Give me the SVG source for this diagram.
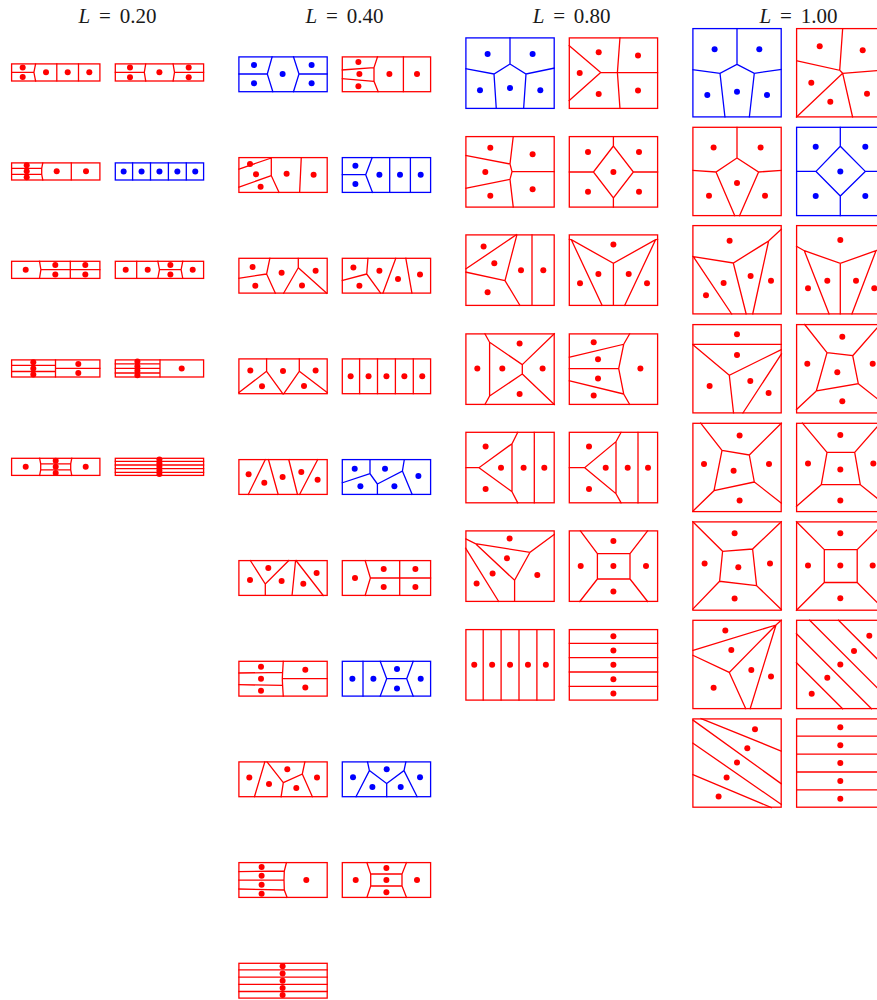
<svg xmlns="http://www.w3.org/2000/svg" width="877" height="1000" viewBox="0 0 877 1000">
<style>
.r rect,.r path{fill:none;stroke:#ff0000;stroke-width:1.3}
.b rect,.b path{fill:none;stroke:#0000ff;stroke-width:1.3}
.r circle{fill:#ff0000}
.b circle{fill:#0000ff}
.t{font-family:"Liberation Serif","DejaVu Serif",serif;font-size:21px;fill:#1a1a1a;word-spacing:3.5px}
</style>
<rect width="877" height="1000" fill="#ffffff"/>
<g id="titles">
<text class="t" x="117.5" y="23.3" text-anchor="middle"><tspan font-style="italic">L</tspan> = 0.20</text>
<text class="t" x="344.5" y="23.3" text-anchor="middle"><tspan font-style="italic">L</tspan> = 0.40</text>
<text class="t" x="571.7" y="22.7" text-anchor="middle"><tspan font-style="italic">L</tspan> = 0.80</text>
<text class="t" x="798.5" y="22.7" text-anchor="middle"><tspan font-style="italic">L</tspan> = 1.00</text>
</g>

<!-- Column L=0.20 -->
<g id="c1r0L" class="r" transform="translate(11,63.3)"><rect x=".6" y=".6" width="88.3" height="17.1"/>
<path d="M0,9 H22.9 M24.7,0 L22.9,9 L24.7,18.3 M45.8,0 V18.3 M67.5,0 V18.3"/>
<circle cx="11.7" cy="4.3" r="3"/><circle cx="11.7" cy="13.8" r="3"/><circle cx="35" cy="9" r="3"/><circle cx="56.7" cy="9" r="3"/><circle cx="78.3" cy="9" r="3"/></g>
<g id="c1r0R" class="r" transform="translate(114.7,63.3)"><rect x=".6" y=".6" width="88.3" height="17.1"/>
<path d="M0,9 H29.6 M31.1,0 L29.6,9 L31.1,18.3 M58.3,0 L59.8,9 L58.3,18.3 M59.8,9 H89.5"/>
<circle cx="15.3" cy="4.3" r="3"/><circle cx="15.3" cy="14" r="3"/><circle cx="44.7" cy="9" r="3"/><circle cx="74" cy="4.3" r="3"/><circle cx="74" cy="14" r="3"/></g>

<g id="c1r1L" class="r" transform="translate(11,162.3)"><rect x=".6" y=".6" width="88.3" height="17.1"/>
<path d="M0,6 H30.7 M0,12 H30.7 M31.9,0 L30.7,6 L30.7,12 L31.9,18.3 M60.3,0 V18.3"/>
<circle cx="15.7" cy="3" r="3"/><circle cx="15.7" cy="9" r="3"/><circle cx="15.7" cy="15" r="3"/><circle cx="45.7" cy="9" r="3"/><circle cx="75" cy="9" r="3"/></g>
<g id="c1r1R" class="b" transform="translate(114.7,162.3)"><rect x=".6" y=".6" width="88.3" height="17.1"/>
<path d="M17.9,0 V18.3 M35.8,0 V18.3 M53.7,0 V18.3 M71.6,0 V18.3"/>
<circle cx="8.95" cy="9.15" r="3"/><circle cx="26.85" cy="9.15" r="3"/><circle cx="44.75" cy="9.15" r="3"/><circle cx="62.65" cy="9.15" r="3"/><circle cx="80.55" cy="9.15" r="3"/></g>

<g id="c1r2L" class="r" transform="translate(11,260.7)"><rect x=".6" y=".6" width="88.3" height="17.1"/>
<path d="M28.4,0 L29.9,9 L28.4,18.3 M29.9,9 H89.5 M59.3,0 V18.3"/>
<circle cx="14.7" cy="9" r="3"/><circle cx="44.3" cy="4.3" r="3"/><circle cx="44.3" cy="13.7" r="3"/><circle cx="74.3" cy="4.3" r="3"/><circle cx="74.3" cy="13.7" r="3"/></g>
<g id="c1r2R" class="r" transform="translate(114.7,260.7)"><rect x=".6" y=".6" width="88.3" height="17.1"/>
<path d="M22,0 V18.3 M43,0 L44.8,9 L43,18.3 M44.8,9 H66.4 M68.2,0 L66.4,9 L68.2,18.3"/>
<circle cx="11" cy="9" r="3"/><circle cx="33" cy="9" r="3"/><circle cx="55.7" cy="4.3" r="3"/><circle cx="55.7" cy="13.7" r="3"/><circle cx="78" cy="9" r="3"/></g>

<g id="c1r3L" class="r" transform="translate(11,359.3)"><rect x=".6" y=".6" width="88.3" height="17.1"/>
<path d="M0,6.1 H44.5 M0,12.2 H44.5 M44.5,0 V18.3 M44.5,9.15 H89.5"/>
<circle cx="22.3" cy="3" r="3"/><circle cx="22.3" cy="9.1" r="3"/><circle cx="22.3" cy="15.2" r="3"/><circle cx="67.3" cy="4.8" r="3"/><circle cx="67.3" cy="13.8" r="3"/></g>
<g id="c1r3R" class="r" transform="translate(114.7,359.3)"><rect x=".6" y=".6" width="88.3" height="17.1"/>
<path d="M0,4.6 H45.3 M0,9.15 H45.3 M0,13.7 H45.3 M45.3,0 V18.3"/>
<circle cx="22.7" cy="2.3" r="3"/><circle cx="22.7" cy="6.9" r="3"/><circle cx="22.7" cy="11.4" r="3"/><circle cx="22.7" cy="16" r="3"/><circle cx="67" cy="9.15" r="3"/></g>

<g id="c1r4L" class="r" transform="translate(11,457.7)"><rect x=".6" y=".6" width="88.3" height="17.1"/>
<path d="M28.5,0 L29.7,6.1 L29.7,12.2 L28.5,18.3 M60.9,0 L59.7,6.1 L59.7,12.2 L60.9,18.3 M29.7,6.1 H59.7 M29.7,12.2 H59.7"/>
<circle cx="14.7" cy="9.15" r="3"/><circle cx="44.7" cy="3" r="3"/><circle cx="44.7" cy="9.15" r="3"/><circle cx="44.7" cy="15.3" r="3"/><circle cx="74.7" cy="9.15" r="3"/></g>
<g id="c1r4R" class="r" transform="translate(114.7,457.7)"><rect x=".6" y=".6" width="88.3" height="17.1"/>
<path d="M0,3.66 H89.5 M0,7.32 H89.5 M0,10.98 H89.5 M0,14.64 H89.5"/>
<circle cx="44.7" cy="1.9" r="3"/><circle cx="44.7" cy="5.5" r="3"/><circle cx="44.7" cy="9.15" r="3"/><circle cx="44.7" cy="12.8" r="3"/><circle cx="44.7" cy="16.4" r="3"/></g>

<!-- Column L=0.40 -->
<g id="c2r0L" class="b" transform="translate(238.3,56.3)"><rect x=".6" y=".6" width="88.3" height="34.8"/>
<path d="M0,17.7 H29 M34,0 L29,17.7 L34.7,36 M55,0 L60.7,17.7 L55,36 M60.7,17.7 H89.5"/>
<circle cx="15.7" cy="8.7" r="3"/><circle cx="15.7" cy="27" r="3"/><circle cx="44.3" cy="17.7" r="3"/><circle cx="73.3" cy="8.7" r="3"/><circle cx="73.3" cy="27" r="3"/></g>
<g id="c2r0R" class="r" transform="translate(341.7,56.3)"><rect x=".6" y=".6" width="88.3" height="34.8"/>
<path d="M0,13.7 L32.3,11.3 M0,22.3 L32.3,25 M36,0 L32.3,11.3 L32.3,25 L36.7,36 M61.7,0 V36"/>
<circle cx="16.7" cy="5.7" r="3"/><circle cx="17.7" cy="17.7" r="3"/><circle cx="16.7" cy="30" r="3"/><circle cx="47.7" cy="17.7" r="3"/><circle cx="75.3" cy="17.7" r="3"/></g>

<g id="c2r1L" class="r" transform="translate(238.3,157)"><rect x=".6" y=".6" width="88.3" height="34.8"/>
<path d="M0,12.3 L33,1 M33,0 V18.7 L41,36 M0,30.3 L33,18.7 M63,0 L61.3,36"/>
<circle cx="11.7" cy="7" r="3"/><circle cx="17.7" cy="17.3" r="3"/><circle cx="22.3" cy="29.7" r="3"/><circle cx="48.3" cy="16.7" r="3"/><circle cx="75.3" cy="17.7" r="3"/></g>
<g id="c2r1R" class="b" transform="translate(341.7,157)"><rect x=".6" y=".6" width="88.3" height="34.8"/>
<path d="M0,17.7 H24 M30.7,0 L24,17.7 L31,36 M48,0 V36 M68.7,0 V36"/>
<circle cx="13.7" cy="8.7" r="3"/><circle cx="13.7" cy="27" r="3"/><circle cx="37.7" cy="17.7" r="3"/><circle cx="58.3" cy="17.7" r="3"/><circle cx="79" cy="17.7" r="3"/></g>

<g id="c2r2L" class="r" transform="translate(238.3,257.7)"><rect x=".6" y=".6" width="88.3" height="34.8"/>
<path d="M0,20.7 L28.3,16.3 M31.7,0 L28.3,16.3 L37.3,36 M60,0 V10 L45,36 M60,10 L89,36"/>
<circle cx="14.3" cy="9.3" r="3"/><circle cx="17" cy="28" r="3"/><circle cx="43.3" cy="15" r="3"/><circle cx="63.7" cy="27.7" r="3"/><circle cx="77.3" cy="13" r="3"/></g>
<g id="c2r2R" class="r" transform="translate(341.7,257.7)"><rect x=".6" y=".6" width="88.3" height="34.8"/>
<path d="M0,23 L25,16.3 M26.3,0 L25,16.3 L39.3,36 M54.3,0 L41,36 M64,0 L70.3,36"/>
<circle cx="11.7" cy="9.7" r="3"/><circle cx="17.7" cy="28" r="3"/><circle cx="37.7" cy="13" r="3"/><circle cx="56.3" cy="21.3" r="3"/><circle cx="78.3" cy="16.7" r="3"/></g>

<g id="c2r3L" class="r" transform="translate(238.3,358.3)"><rect x=".6" y=".6" width="88.3" height="34.8"/>
<path d="M28.3,0 V13 L0,34.7 M28.3,13 L45,36 M61,0 V13 L45,36 M61,13 L89.5,34.7"/>
<circle cx="12" cy="12.3" r="3"/><circle cx="23.7" cy="28" r="3"/><circle cx="44.7" cy="12.7" r="3"/><circle cx="65.7" cy="27.7" r="3"/><circle cx="77.3" cy="12.3" r="3"/></g>
<g id="c2r3R" class="r" transform="translate(341.7,358.3)"><rect x=".6" y=".6" width="88.3" height="34.8"/>
<path d="M17.9,0 V36 M35.8,0 V36 M53.7,0 V36 M71.6,0 V36"/>
<circle cx="8.95" cy="18" r="3"/><circle cx="26.85" cy="18" r="3"/><circle cx="44.75" cy="18" r="3"/><circle cx="62.65" cy="18" r="3"/><circle cx="80.55" cy="18" r="3"/></g>

<g id="c2r4L" class="r" transform="translate(238.3,459)"><rect x=".6" y=".6" width="88.3" height="34.8"/>
<path d="M27.3,0 L9.7,36 M30,0 L40,36 M50.3,0 L59.3,36 M79.7,0 L61,36"/>
<circle cx="10.3" cy="15.3" r="3"/><circle cx="26" cy="23.7" r="3"/><circle cx="44.3" cy="18" r="3"/><circle cx="63" cy="13" r="3"/><circle cx="79.3" cy="20.7" r="3"/></g>
<g id="c2r4R" class="b" transform="translate(341.7,459)"><rect x=".6" y=".6" width="88.3" height="34.8"/>
<path d="M0,24 L28.3,14.7 M28.3,0 V14.7 L35.7,25 V36 M35.7,25 L60.7,12 L62.7,0 M60.7,12 L70.7,36"/>
<circle cx="13" cy="9.7" r="3"/><circle cx="18.7" cy="27.3" r="3"/><circle cx="43.3" cy="9.7" r="3"/><circle cx="52.7" cy="27.3" r="3"/><circle cx="76.7" cy="17" r="3"/></g>

<g id="c2r5L" class="r" transform="translate(238.3,560)"><rect x=".6" y=".6" width="88.3" height="34.8"/>
<path d="M11.7,0 L27,24 L51,0 M27,24 V36 M57.3,0 L53.7,36 M57.3,0 L85.3,36"/>
<circle cx="11.7" cy="20" r="3"/><circle cx="30" cy="8" r="3"/><circle cx="43.3" cy="21" r="3"/><circle cx="65" cy="23.7" r="3"/><circle cx="78.3" cy="13" r="3"/></g>
<g id="c2r5R" class="r" transform="translate(341.7,560)"><rect x=".6" y=".6" width="88.3" height="34.8"/>
<path d="M23.3,0 L28.7,18 L23.3,36 M28.7,18 H89.5 M58,0 V36"/>
<circle cx="13.3" cy="18" r="3"/><circle cx="42" cy="9" r="3"/><circle cx="42" cy="27" r="3"/><circle cx="73.7" cy="9" r="3"/><circle cx="73.7" cy="27" r="3"/></g>

<g id="c2r6L" class="r" transform="translate(238.3,660.7)"><rect x=".6" y=".6" width="88.3" height="34.8"/>
<path d="M0,12.3 L44.3,11.7 M0,24 L44.3,24.7 M45,0 L44.3,11.7 L44,18 L44.3,24.7 L45,36 M44,18 H89.5"/>
<circle cx="22.7" cy="6" r="3"/><circle cx="22.7" cy="18" r="3"/><circle cx="22.7" cy="30" r="3"/><circle cx="67" cy="9" r="3"/><circle cx="67" cy="26.7" r="3"/></g>
<g id="c2r6R" class="b" transform="translate(341.7,660.7)"><rect x=".6" y=".6" width="88.3" height="34.8"/>
<path d="M21.3,0 V36 M38.3,0 L45,18 L38.3,36 M45,18 H65 M71.7,0 L65,18 L71.7,36"/>
<circle cx="10.7" cy="18" r="3"/><circle cx="31.7" cy="18" r="3"/><circle cx="55.3" cy="8.3" r="3"/><circle cx="55.3" cy="27.7" r="3"/><circle cx="79" cy="18" r="3"/></g>

<g id="c2r7L" class="r" transform="translate(238.3,761.3)"><rect x=".6" y=".6" width="88.3" height="34.8"/>
<path d="M26.7,0 L16,36 M28.3,0 L45,21.3 L42.7,36 M45,21.3 L64,12.7 L66.7,0 M64,12.7 L74.3,36"/>
<circle cx="11" cy="16.3" r="3"/><circle cx="30.7" cy="22.7" r="3"/><circle cx="49" cy="8" r="3"/><circle cx="58" cy="26.7" r="3"/><circle cx="78.7" cy="16.3" r="3"/></g>
<g id="c2r7R" class="b" transform="translate(341.7,761.3)"><rect x=".6" y=".6" width="88.3" height="34.8"/>
<path d="M25.7,0 L27.7,9.3 L14,36 M27.7,9.3 L45,22.3 V36 M45,22.3 L62.3,9.3 L64.3,0 M62.3,9.3 L75.7,36"/>
<circle cx="11.3" cy="16" r="3"/><circle cx="45" cy="8" r="3"/><circle cx="30.7" cy="25.7" r="3"/><circle cx="59" cy="25.7" r="3"/><circle cx="78.3" cy="16" r="3"/></g>

<g id="c2r8L" class="r" transform="translate(238.3,862)"><rect x=".6" y=".6" width="88.3" height="34.8"/>
<path d="M0,9.6 L46,9 M0,18.1 H45.7 M0,27 L46,28 M48.3,0 L46,9 L45.7,18.1 L46,28 L49,36"/>
<circle cx="23.3" cy="5" r="3"/><circle cx="23.3" cy="13.7" r="3"/><circle cx="23.3" cy="22.7" r="3"/><circle cx="23.3" cy="31.7" r="3"/><circle cx="68" cy="18" r="3"/></g>
<g id="c2r8R" class="r" transform="translate(341.7,862)"><rect x=".6" y=".6" width="88.3" height="34.8"/>
<path d="M25,0 L29,12 L29,24 L25,36 M29,12 H60.3 M29,24 H60.3 M65,0 L60.3,12 L60.3,24 L65,36"/>
<circle cx="14" cy="18" r="3"/><circle cx="44.7" cy="6" r="3"/><circle cx="44.7" cy="18" r="3"/><circle cx="44.7" cy="30.3" r="3"/><circle cx="75.3" cy="18" r="3"/></g>

<g id="c2r9L" class="r" transform="translate(238.3,962.7)"><rect x=".6" y=".6" width="88.3" height="34.8"/>
<path d="M0,7.2 H89.5 M0,14.4 H89.5 M0,21.6 H89.5 M0,28.8 H89.5"/>
<circle cx="44.3" cy="3.6" r="3"/><circle cx="44.3" cy="10.8" r="3"/><circle cx="44.3" cy="18" r="3"/><circle cx="44.3" cy="25.2" r="3"/><circle cx="44.3" cy="32.4" r="3"/></g>

<!-- Column L=0.80 -->
<g id="c3r0L" class="b" transform="translate(465.3,37.3)"><rect x=".6" y=".6" width="88.3" height="70.5"/>
<path d="M44.7,0 V26.7 L28.7,36.7 L0,31.3 M28.7,36.7 L31,71.7 M44.7,26.7 L60.7,36.7 L89.5,30.7 M60.7,36.7 L58.3,71.7"/>
<circle cx="22.3" cy="16.7" r="3"/><circle cx="67.3" cy="16.7" r="3"/><circle cx="14.7" cy="53" r="3"/><circle cx="44.7" cy="50.7" r="3"/><circle cx="75" cy="53" r="3"/></g>
<g id="c3r0R" class="r" transform="translate(568.7,37.3)"><rect x=".6" y=".6" width="88.3" height="70.5"/>
<path d="M0,8 L32,35.3 L0,63.7 M32,35.3 H89.5 M51.3,0 L48.7,35.3 L51.3,71.7"/>
<circle cx="30" cy="15" r="3"/><circle cx="69.3" cy="18.3" r="3"/><circle cx="11" cy="35.7" r="3"/><circle cx="30" cy="56.7" r="3"/><circle cx="69.3" cy="53.3" r="3"/></g>

<g id="c3r1L" class="r" transform="translate(465.3,136)"><rect x=".6" y=".6" width="88.3" height="70.5"/>
<path d="M48,0 L44.7,28 L0,19.3 M44.7,28 L46.7,35.7 L44.7,43.3 L0,52.3 M44.7,43.3 L48,71.7 M46.7,35.7 H89.5"/>
<circle cx="25" cy="11.7" r="3"/><circle cx="67.3" cy="18.3" r="3"/><circle cx="20" cy="36" r="3"/><circle cx="25" cy="59.7" r="3"/><circle cx="67.3" cy="53.3" r="3"/></g>
<g id="c3r1R" class="r" transform="translate(568.7,136)"><rect x=".6" y=".6" width="88.3" height="70.5"/>
<path d="M44.7,10 L24.7,36 L44.7,62 L64.7,36 Z M44.7,0 V10 M44.7,62 V71.7 M0,36 H24.7 M64.7,36 H89.5"/>
<circle cx="19.3" cy="16" r="3"/><circle cx="70.3" cy="16" r="3"/><circle cx="44.7" cy="36" r="3"/><circle cx="19.3" cy="55.7" r="3"/><circle cx="70.3" cy="55.7" r="3"/></g>

<g id="c3r2L" class="r" transform="translate(465.3,234.3)"><rect x=".6" y=".6" width="88.3" height="70.5"/>
<path d="M51.7,0 L0,35 M0,37.7 L39.7,46.3 M51.7,0 L39.7,46.3 L55,71.7 M66.7,0 V71.7"/>
<circle cx="18.3" cy="12.3" r="3"/><circle cx="29" cy="29" r="3"/><circle cx="55.7" cy="36" r="3"/><circle cx="78" cy="36" r="3"/><circle cx="22.3" cy="58" r="3"/></g>
<g id="c3r2R" class="r" transform="translate(568.7,234.3)"><rect x=".6" y=".6" width="88.3" height="70.5"/>
<path d="M0,5 L2.6,5.4 L44.7,29 L86.9,5.4 L89.5,5 M2.6,5.4 L33.7,71.7 M44.7,29 V71.7 M86.9,5.4 L55.7,71.7"/>
<circle cx="44.7" cy="10.3" r="3"/><circle cx="29.7" cy="39.7" r="3"/><circle cx="60" cy="39.7" r="3"/><circle cx="11.3" cy="49" r="3"/><circle cx="78.3" cy="49" r="3"/></g>

<g id="c3r3L" class="r" transform="translate(465.3,333.3)"><rect x=".6" y=".6" width="88.3" height="70.5"/>
<path d="M19.3,0 L24.3,9 V62.7 L19.3,71.7 M24.3,9 L57,31.3 V40.7 L24.3,62.7 M57,31.3 L89.5,0 M57,40.7 L89.5,71.7"/>
<circle cx="12" cy="35.3" r="3"/><circle cx="37" cy="35.3" r="3"/><circle cx="54.3" cy="10.3" r="3"/><circle cx="77.3" cy="35.3" r="3"/><circle cx="54.3" cy="60.7" r="3"/></g>
<g id="c3r3R" class="r" transform="translate(568.7,333.3)"><rect x=".6" y=".6" width="88.3" height="70.5"/>
<path d="M0,24 L55,11 L61.3,0 M55,11 L50,35.3 L55,60.7 L61.3,71.7 M0,35.3 H50 M0,47.3 L55,60.7"/>
<circle cx="25" cy="9" r="3"/><circle cx="29.3" cy="26" r="3"/><circle cx="29.3" cy="45.3" r="3"/><circle cx="25" cy="62.3" r="3"/><circle cx="71.7" cy="35.3" r="3"/></g>

<g id="c3r4L" class="r" transform="translate(465.3,431.7)"><rect x=".6" y=".6" width="88.3" height="70.5"/>
<path d="M0,36 H13.7 L46.7,12 L52.7,0 M46.7,12 V60 L13.7,36 M46.7,60 L52.7,71.7 M69,0 V71.7"/>
<circle cx="20.3" cy="14.7" r="3"/><circle cx="35.7" cy="36" r="3"/><circle cx="58.3" cy="36" r="3"/><circle cx="79" cy="36" r="3"/><circle cx="20.3" cy="57.3" r="3"/></g>
<g id="c3r4R" class="r" transform="translate(568.7,431.7)"><rect x=".6" y=".6" width="88.3" height="70.5"/>
<path d="M0,36 H16 L47.3,10 L52.7,0 M47.3,10 V62 L16,36 M47.3,62 L52.7,71.7 M69.3,0 V71.7"/>
<circle cx="20.3" cy="14.7" r="3"/><circle cx="37" cy="36" r="3"/><circle cx="59" cy="36" r="3"/><circle cx="79.3" cy="36" r="3"/><circle cx="20.3" cy="57.3" r="3"/></g>

<g id="c3r5L" class="r" transform="translate(465.3,530.3)"><rect x=".6" y=".6" width="88.3" height="70.5"/>
<path d="M0,8.3 L10,13.3 L64.7,22 L89.5,3.7 M10,13.3 L49.3,50 L64.7,22 M49.3,50 V71.7 M0,17.3 L33.7,71.7"/>
<circle cx="44.3" cy="8.3" r="3"/><circle cx="41.7" cy="28" r="3"/><circle cx="27.3" cy="43.3" r="3"/><circle cx="11.3" cy="53.3" r="3"/><circle cx="72" cy="44.7" r="3"/></g>
<g id="c3r5R" class="r" transform="translate(568.7,530.3)"><rect x=".6" y=".6" width="88.3" height="70.5"/>
<path d="M28.7,23.3 H61.3 V48.7 H28.7 Z M11.3,0 L28.7,23.3 M79.3,0 L61.3,23.3 M28.7,48.7 L10.7,71.7 M61.3,48.7 L79.3,71.7"/>
<circle cx="44.7" cy="10.7" r="3"/><circle cx="12" cy="35.7" r="3"/><circle cx="44.7" cy="35.7" r="3"/><circle cx="77.3" cy="35.7" r="3"/><circle cx="44.7" cy="61.3" r="3"/></g>

<g id="c3r6L" class="r" transform="translate(465.3,629)"><rect x=".6" y=".6" width="88.3" height="70.5"/>
<path d="M17.9,0 V71.7 M35.8,0 V71.7 M53.7,0 V71.7 M71.6,0 V71.7"/>
<circle cx="8.95" cy="35.8" r="3"/><circle cx="26.85" cy="35.8" r="3"/><circle cx="44.75" cy="35.8" r="3"/><circle cx="62.65" cy="35.8" r="3"/><circle cx="80.55" cy="35.8" r="3"/></g>
<g id="c3r6R" class="r" transform="translate(568.7,629)"><rect x=".6" y=".6" width="88.3" height="70.5"/>
<path d="M0,14.34 H89.5 M0,28.68 H89.5 M0,43.02 H89.5 M0,57.36 H89.5"/>
<circle cx="44.7" cy="7.17" r="3"/><circle cx="44.7" cy="21.5" r="3"/><circle cx="44.7" cy="35.85" r="3"/><circle cx="44.7" cy="50.2" r="3"/><circle cx="44.7" cy="64.5" r="3"/></g>

<!-- Column L=1.00 -->
<g id="c4r0L" class="b" transform="translate(692.3,28)"><rect x=".6" y=".6" width="88.3" height="88.3"/>
<path d="M44.7,0 V36.3 L27.7,45.3 L0,41.7 M27.7,45.3 L32.7,89.5 M44.7,36.3 L62,45.3 L89.5,41.3 M62,45.3 L57,89.5"/>
<circle cx="22.3" cy="21.3" r="3"/><circle cx="67" cy="21.3" r="3"/><circle cx="15" cy="67" r="3"/><circle cx="44.7" cy="63.7" r="3"/><circle cx="74.7" cy="67" r="3"/></g>
<g id="c4r0R" class="r" transform="translate(796,28)"><rect x=".6" y=".6" width="88.3" height="88.3"/>
<path d="M46.7,0 L43.7,42.3 L0,32.7 M43.7,42.3 L46.7,45.3 L0,89.5 M46.7,45.3 L89.5,42 M46.7,45.3 L56.7,89.5"/>
<circle cx="23.7" cy="18.3" r="3"/><circle cx="66.7" cy="22.3" r="3"/><circle cx="15.3" cy="54.7" r="3"/><circle cx="34.3" cy="73.7" r="3"/><circle cx="71" cy="65.7" r="3"/></g>

<g id="c4r1L" class="r" transform="translate(692.3,126.7)"><rect x=".6" y=".6" width="88.3" height="88.3"/>
<path d="M44.7,0 V31.3 L23.7,45.3 L0,43.7 M23.7,45.3 L42.7,89.5 M44.7,31.3 L66.3,45.3 L89.5,43.7 M66.3,45.3 L47,89.5"/>
<circle cx="21.3" cy="20.7" r="3"/><circle cx="68.3" cy="20.7" r="3"/><circle cx="44.7" cy="56.3" r="3"/><circle cx="16.7" cy="69" r="3"/><circle cx="72.7" cy="69" r="3"/></g>
<g id="c4r1R" class="b" transform="translate(796,126.7)"><rect x=".6" y=".6" width="88.3" height="88.3"/>
<path d="M44.3,19.5 L20,44.7 L44.3,69.3 L69.3,44.7 Z M44.3,0 V19.5 M44.3,69.3 V89.5 M0,44.7 H20 M69.3,44.7 H89.5"/>
<circle cx="19.7" cy="20" r="3"/><circle cx="69.3" cy="20" r="3"/><circle cx="44.3" cy="44.7" r="3"/><circle cx="19.7" cy="69.3" r="3"/><circle cx="69.3" cy="69.3" r="3"/></g>

<g id="c4r2L" class="r" transform="translate(692.3,225)"><rect x=".6" y=".6" width="88.3" height="88.3"/>
<path d="M0,31 L1,31.7 L41,38 L76.3,16 L89.5,3.7 M1,31.7 L39.7,89.5 M41,38 L54,89.5 M76.3,16 L60.3,89.5"/>
<circle cx="37.3" cy="15.7" r="3"/><circle cx="31.3" cy="58" r="3"/><circle cx="13.7" cy="70.3" r="3"/><circle cx="58.3" cy="51" r="3"/><circle cx="78.7" cy="55.7" r="3"/></g>
<g id="c4r2R" class="r" transform="translate(796,225)"><rect x=".6" y=".6" width="88.3" height="88.3"/>
<path d="M0,21 L8.3,25.7 L44.3,38.3 L80,25.7 L89.5,21 M8.3,25.7 L33.3,89.5 M44.3,38.3 V89.5 M80,25.7 L55.7,89.5"/>
<circle cx="44.3" cy="15" r="3"/><circle cx="31.3" cy="55.7" r="3"/><circle cx="12" cy="63.3" r="3"/><circle cx="60" cy="55.7" r="3"/><circle cx="78.3" cy="63.3" r="3"/></g>

<g id="c4r3L" class="r" transform="translate(692.3,324)"><rect x=".6" y=".6" width="88.3" height="88.3"/>
<path d="M0,20.3 H89.5 M0,20.3 L37,51.3 L89.5,25.3 M37,51.3 L41.3,89.5 M89.5,29.3 L50.3,89.5"/>
<circle cx="44.7" cy="10.3" r="3"/><circle cx="44.7" cy="31" r="3"/><circle cx="17.3" cy="62" r="3"/><circle cx="58" cy="57" r="3"/><circle cx="76.3" cy="69" r="3"/></g>
<g id="c4r3R" class="r" transform="translate(796,324)"><rect x=".6" y=".6" width="88.3" height="88.3"/>
<path d="M31,28.7 L56.7,31.7 L62.3,59.7 L20.3,67 Z M8.3,0 L31,28.7 M56.7,31.7 L84.5,0 M62.3,59.7 L89.5,81.2 M20.3,67 L0,86"/>
<circle cx="46.3" cy="12.7" r="3"/><circle cx="11.3" cy="39.7" r="3"/><circle cx="41.3" cy="48.3" r="3"/><circle cx="76.7" cy="39.7" r="3"/><circle cx="46.3" cy="77.3" r="3"/></g>

<g id="c4r4L" class="r" transform="translate(692.3,422.7)"><rect x=".6" y=".6" width="88.3" height="88.3"/>
<path d="M8,0 L29.7,27.7 L57,32.3 L89.5,0 M57,32.3 L62,59.3 L89.5,80.7 M62,59.3 L21.7,68 L0,89 M21.7,68 L29.7,27.7"/>
<circle cx="47.3" cy="12.7" r="3"/><circle cx="11.7" cy="41.3" r="3"/><circle cx="41.3" cy="48" r="3"/><circle cx="76.7" cy="41.3" r="3"/><circle cx="47.3" cy="77.7" r="3"/></g>
<g id="c4r4R" class="r" transform="translate(796,422.7)"><rect x=".6" y=".6" width="88.3" height="88.3"/>
<path d="M6,0 L31,29.7 L58.7,29.7 L84.7,0 M58.7,29.7 L64.3,62 L89.5,82.3 M64.3,62 L25.3,62 L0,84 M25.3,62 L31,29.7"/>
<circle cx="44.3" cy="12.3" r="3"/><circle cx="12" cy="40.7" r="3"/><circle cx="44.3" cy="46.7" r="3"/><circle cx="77.3" cy="40.7" r="3"/><circle cx="44.3" cy="77.7" r="3"/></g>

<g id="c4r5L" class="r" transform="translate(692.3,521.3)"><rect x=".6" y=".6" width="88.3" height="88.3"/>
<path d="M0,0 L30.3,30 L60.3,27.7 L89.5,0 M60.3,27.7 L64.3,64.3 L89.5,88.7 M64.3,64.3 L27.3,60 L0,88.3 M27.3,60 L30.3,30"/>
<circle cx="42.3" cy="12" r="3"/><circle cx="12.3" cy="42.3" r="3"/><circle cx="46" cy="46" r="3"/><circle cx="77.7" cy="42.3" r="3"/><circle cx="42.3" cy="77.3" r="3"/></g>
<g id="c4r5R" class="r" transform="translate(796,521.3)"><rect x=".6" y=".6" width="88.3" height="88.3"/>
<path d="M28.3,28.3 H61.2 V61.2 H28.3 Z M0,0 L28.3,28.3 M61.2,28.3 L89.5,0 M28.3,61.2 L0,89.5 M61.2,61.2 L89.5,89.5"/>
<circle cx="44.3" cy="12" r="3"/><circle cx="12" cy="44.3" r="3"/><circle cx="44.3" cy="44.3" r="3"/><circle cx="76.7" cy="44.3" r="3"/><circle cx="44.3" cy="77" r="3"/></g>

<g id="c4r6L" class="r" transform="translate(692.3,619.7)"><rect x=".6" y=".6" width="88.3" height="88.3"/>
<path d="M0,31 L83.7,5.3 L89.5,0 M0,35.3 L37,52.7 L83.7,5.3 M37,52.7 L53.7,89.5 M83.7,5.3 L57.7,89.5"/>
<circle cx="33" cy="10.7" r="3"/><circle cx="39" cy="30.3" r="3"/><circle cx="59" cy="50.3" r="3"/><circle cx="78.7" cy="56.7" r="3"/><circle cx="21.3" cy="68" r="3"/></g>
<g id="c4r6R" class="r" transform="translate(796,619.7)"><rect x=".6" y=".6" width="88.3" height="88.3"/>
<path d="M0,42.5 L47.1,89.5 M0,13.55 L76,89.5 M13.15,0 L89.5,76.4 M42,0 L89.5,47.6"/>
<circle cx="73.3" cy="16" r="3"/><circle cx="58" cy="31.3" r="3"/><circle cx="44.3" cy="44.7" r="3"/><circle cx="31.3" cy="58" r="3"/><circle cx="15.7" cy="74" r="3"/></g>

<g id="c4r7L" class="r" transform="translate(692.3,718.3)"><rect x=".6" y=".6" width="88.3" height="88.3"/>
<path d="M8.2,0 L89.5,33 M0,1.3 L89.5,65.8 M0,24.4 L89.5,86.5 M0,56 L79.7,89.5"/>
<circle cx="62.7" cy="11" r="3"/><circle cx="55" cy="30" r="3"/><circle cx="44.7" cy="44.3" r="3"/><circle cx="34.3" cy="59.3" r="3"/><circle cx="26.3" cy="78.3" r="3"/></g>
<g id="c4r7R" class="r" transform="translate(796,718.3)"><rect x=".6" y=".6" width="88.3" height="88.3"/>
<path d="M0,17.9 H89.5 M0,35.8 H89.5 M0,53.7 H89.5 M0,71.6 H89.5"/>
<circle cx="44.3" cy="8.95" r="3"/><circle cx="44.3" cy="26.85" r="3"/><circle cx="44.3" cy="44.75" r="3"/><circle cx="44.3" cy="62.65" r="3"/><circle cx="44.3" cy="80.55" r="3"/></g>
</svg>
